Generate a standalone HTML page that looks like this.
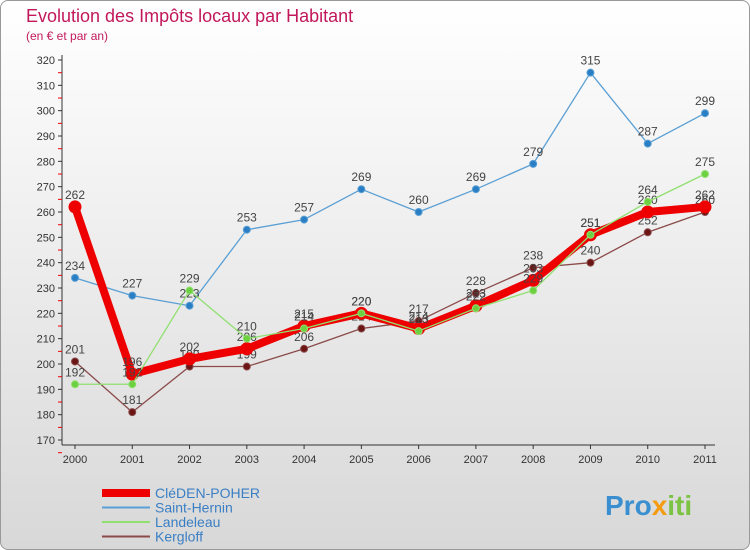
<!DOCTYPE html>
<html><head><meta charset="utf-8"><style>
body{margin:0;width:750px;height:550px;overflow:hidden;font-family:"Liberation Sans",sans-serif}
#w{position:absolute;left:0;top:0;width:748px;height:548px;border:1px solid #999;border-radius:8px;background:linear-gradient(#fff,#d8d8d8);}
</style></head><body>
<div id="w"></div>
<svg id="s" width="750" height="550" style="position:absolute;left:0;top:0" font-family="Liberation Sans, sans-serif">
<text x="26" y="22" font-size="18" fill="#c2185b">Evolution des Impôts locaux par Habitant</text>
<text x="26" y="40" font-size="12" fill="#c2185b">(en € et par an)</text>
<text x="605" y="515" font-size="28" font-weight="bold" fill="#3a8fd0">Pro<tspan fill="#f39c12">x</tspan><tspan fill="#7cc243">iti</tspan></text>
</svg>
<script>
const years=[2000,2001,2002,2003,2004,2005,2006,2007,2008,2009,2010,2011];
const yTicks=[170,180,190,200,210,220,230,240,250,260,270,280,290,300,310,320];
const seriesNames=["CléDEN-POHER","Saint-Hernin","Landeleau","Kergloff"];
const cleden=[262,196,202,206,215,220,214,223,233,251,260,262];
const sainthernin=[234,227,223,253,257,269,260,269,279,315,287,299];
const landeleau=[192,192,229,210,214,220,213,222,229,251,264,275];
const kergloff=[201,181,199,199,206,214,217,228,238,240,252,260];
const NS="http://www.w3.org/2000/svg",svg=document.getElementById('s');
const X=i=>75+i*(630/11), Y=v=>440-(v-170)*(380/150);
function mk(t,a,p){const e=document.createElementNS(NS,t);for(const k in a)e.setAttribute(k,a[k]);(p||svg).appendChild(e);return e;}
const ax=mk('g',{});


mk('line',{x1:62,y1:55,x2:62,y2:445,stroke:'#333'},ax);
mk('line',{x1:62,y1:445,x2:715,y2:445,stroke:'#333'},ax);
yTicks.forEach(v=>{const y=Y(v);mk('line',{x1:58,y1:y,x2:62,y2:y,stroke:'#333'},ax);
 mk('line',{x1:58,y1:y+12.7,x2:62,y2:y+12.7,stroke:'#e00'},ax);
 const t=mk('text',{x:55,y:y+4,'font-size':11,fill:'#333','text-anchor':'end'},ax);t.textContent=v;
 
 });
years.forEach((yr,i)=>{mk('line',{x1:X(i),y1:445,x2:X(i),y2:449,stroke:'#333'},ax);
 const t=mk('text',{x:X(i),y:463,'font-size':11,fill:'#333','text-anchor':'middle'},ax);t.textContent=yr;
 
 });
function draw(data,color,w,r,name,dot){
 const g=mk('g',{});
 
 
 mk('polyline',{points:data.map((v,i)=>X(i)+','+Y(v)).join(' '),fill:'none',stroke:color,'stroke-width':w,'stroke-linejoin':'round'},g);
 data.forEach((v,i)=>{const c=mk('circle',{cx:X(i),cy:Y(v),r:r,fill:dot,stroke:color},g);
  
  
  const t=mk('text',{x:X(i),y:Y(v)-8,'font-size':12,fill:'#444','text-anchor':'middle'},g);t.textContent=v;
  
  });
}
draw(sainthernin,'#5a9fd4',1.3,3.5,'series-saint-hernin','#2a7fc4');
draw(kergloff,'#8b4a4a',1.3,3.5,'series-kergloff','#6b1515');
draw(cleden,'#ee0000',8,6,'series-cleden-poher','#ee0000');
draw(landeleau,'#90e070',1.3,3.5,'series-landeleau','#6cd040');
const cols=['#ee0000','#5a9fd4','#90e070','#8b4a4a'],ws=[8,2,2,2];
seriesNames.forEach((n,k)=>{const y=493+k*14.5;const g=mk('g',{});
 
 
 mk('line',{x1:102,y1:y,x2:150,y2:y,stroke:cols[k],'stroke-width':ws[k]},g);
 const t=mk('text',{x:155,y:y+5,'font-size':14,fill:'#3a7fc4'},g);t.textContent=n;});
</script>
</body></html>
